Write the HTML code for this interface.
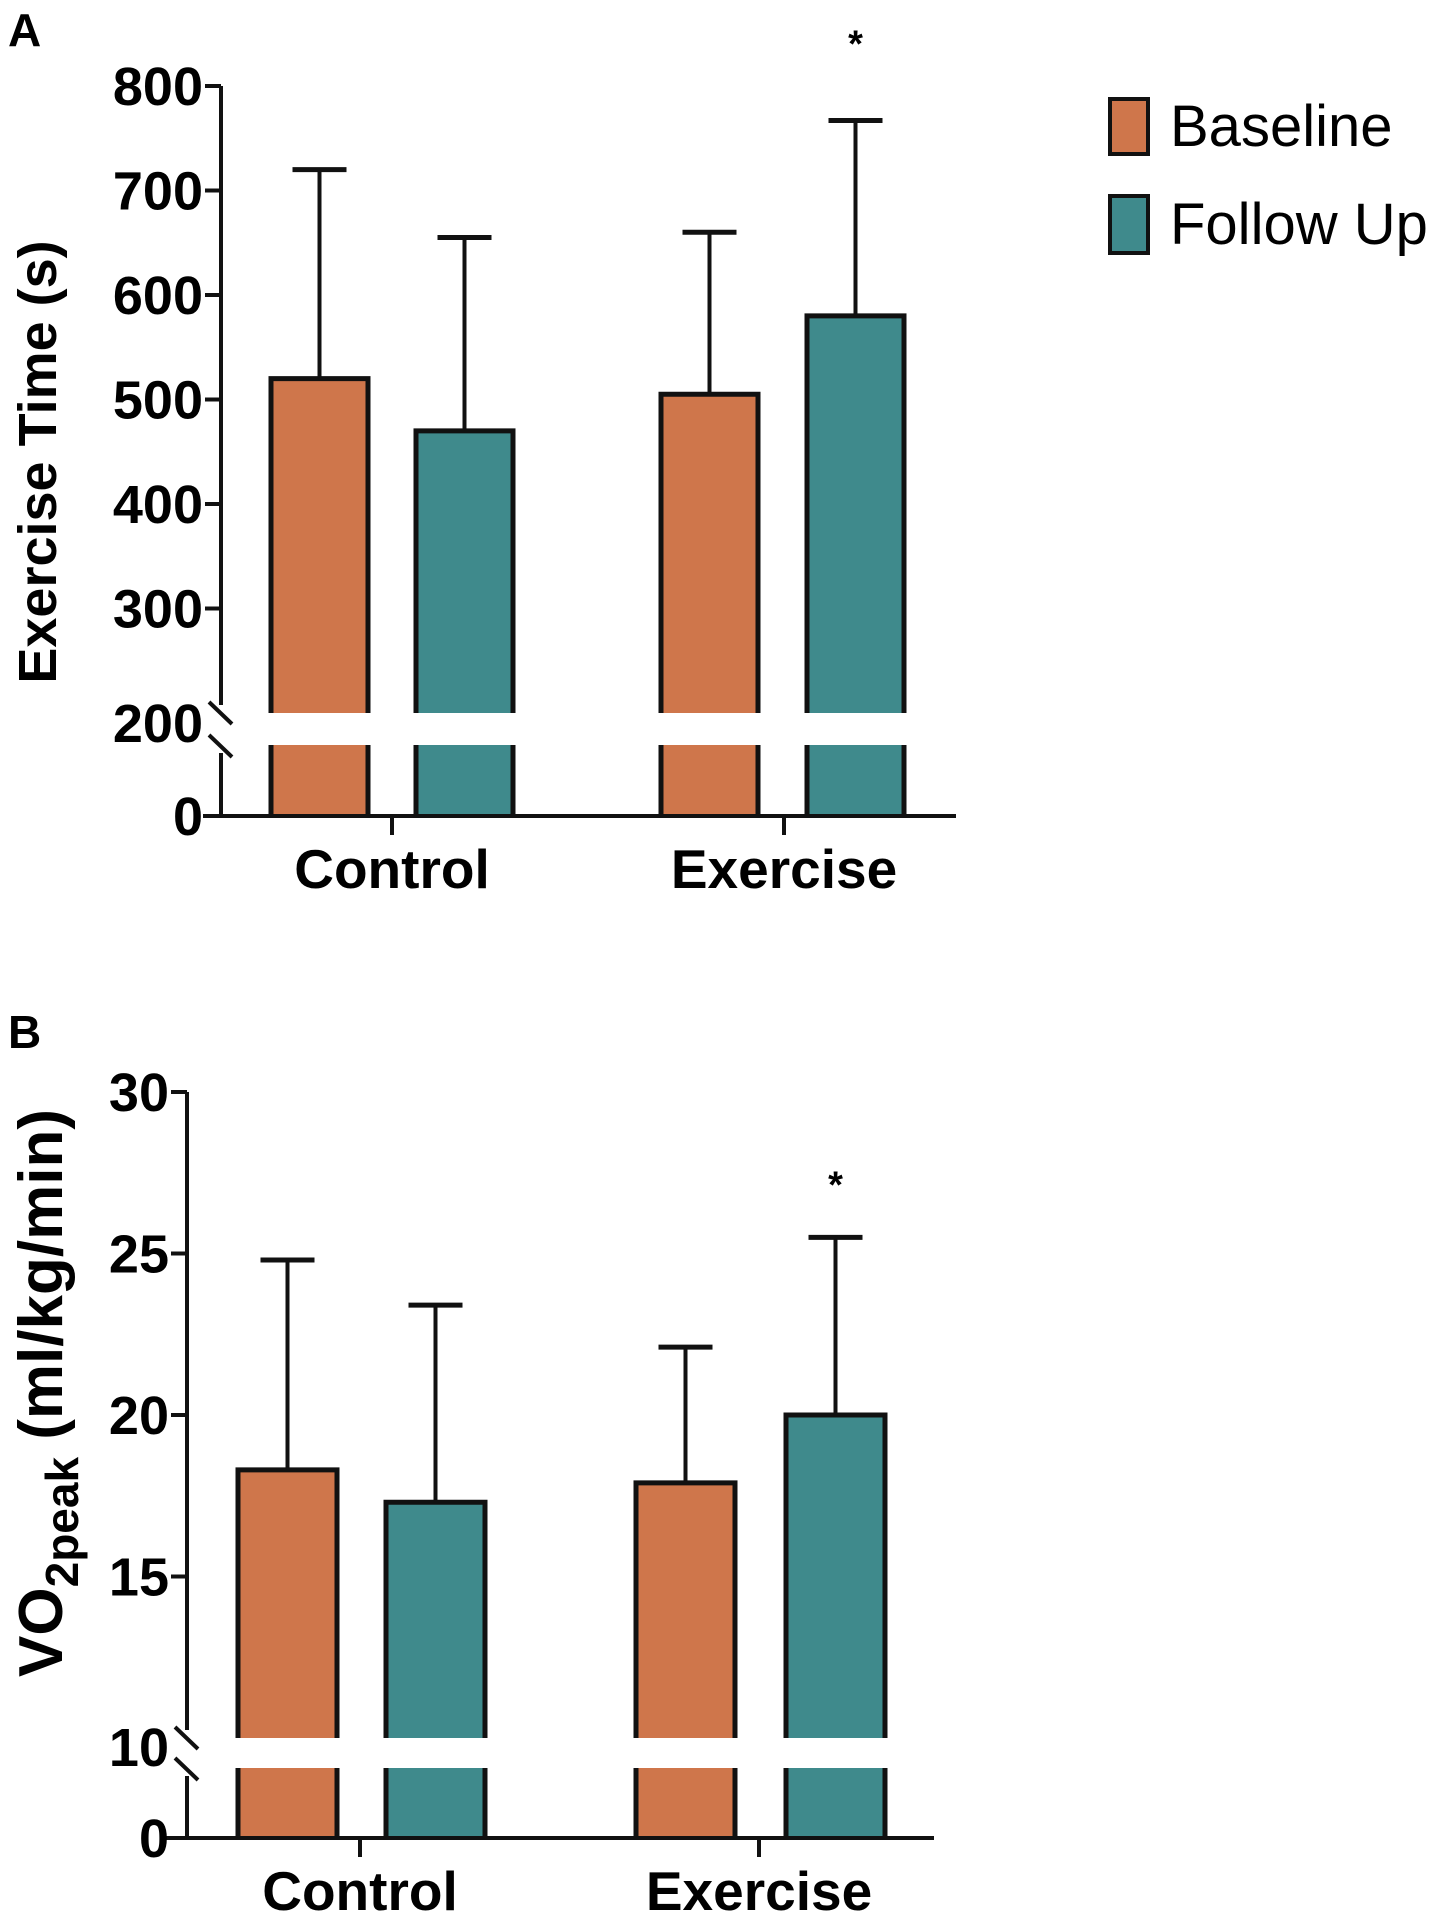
<!DOCTYPE html>
<html><head><meta charset="utf-8">
<style>
html,body{margin:0;padding:0;background:#fff;}
svg{display:block;font-family:"Liberation Sans",Arial,sans-serif;}
</style></head>
<body>
<svg id="chart" width="1440" height="1920" viewBox="0 0 1440 1920">
<text x="8" y="46" font-size="46" font-weight="bold">A</text>
<text x="8" y="1048" font-size="46" font-weight="bold">B</text>
<g id="pa"></g>
<g id="pb"></g>
<g>
  <rect x="1110" y="99" width="38" height="55" fill="#CF764B" stroke="#111" stroke-width="4"/>
  <text x="1170" y="146" font-size="58">Baseline</text>
  <rect x="1110" y="196" width="38" height="57" fill="#3F8A8C" stroke="#111" stroke-width="4"/>
  <text x="1170" y="244" font-size="58">Follow Up</text>
</g>
</svg>
<script>
const categories = ["Control", "Exercise"];
const seriesNames = ["Baseline", "Follow Up"];
const aBaseline = [520, 505];
const aFollowUp = [470, 580];
const aBaselineErr = [720, 660];
const aFollowUpErr = [655, 767];
const aTicks = [300, 400, 500, 600, 700, 800];
const aTickLabels = ["300", "400", "500", "600", "700", "800"];
const aSig = [false, true];
const bBaseline = [18.3, 17.9];
const bFollowUp = [17.3, 20.0];
const bBaselineErr = [24.8, 22.1];
const bFollowUpErr = [23.4, 25.5];
const bTicks = [15, 20, 25, 30];
const bTickLabels = ["15", "20", "25", "30"];
const bSig = [false, true];

const NS = "http://www.w3.org/2000/svg";
function mk(parent, tag, attrs){
  const e = document.createElementNS(NS, tag);
  for (const k in attrs) e.setAttribute(k, attrs[k]);
  parent.appendChild(e);
  return e;
}
const colors = ["#CF764B", "#3F8A8C"];

function drawPanel(g, cfg){
  const y = v => cfg.breakTop - (v - cfg.breakVal) * cfg.scale;
  const vals = [cfg.base, cfg.fu];
  const errs = [cfg.baseErr, cfg.fuErr];
  for (let c = 0; c < categories.length; c++){
    for (let s = 0; s < 2; s++){
      const x0 = cfg.barX[c][s], w = cfg.barW;
      const top = y(vals[s][c]);
      const cx = x0 + w/2;
      const eb = mk(g, "line", {x1:cx, x2:cx, y1:top, y2:y(errs[s][c]), stroke:"#111", "stroke-width":4});
      
      
      const cap = mk(g, "line", {x1:cx-27, x2:cx+27, y1:y(errs[s][c]), y2:y(errs[s][c]), stroke:"#111", "stroke-width":5});
      
      
      const up = mk(g, "path", {d:`M${x0},${cfg.breakTop} V${top} H${x0+w} V${cfg.breakTop}`, fill:colors[s], stroke:"#111", "stroke-width":5});
      
      
      const lof = mk(g, "rect", {x:x0, y:cfg.breakBot, width:w, height:cfg.zeroY-cfg.breakBot, fill:colors[s]});
      
      
      const lo = mk(g, "path", {d:`M${x0},${cfg.zeroY} V${cfg.breakBot} M${x0+w},${cfg.breakBot} V${cfg.zeroY}`, stroke:"#111", "stroke-width":5, fill:"none"});
      
      
    }
    if (cfg.sig[c]){
      const cx = cfg.barX[c][1] + cfg.barW/2;
      const st = mk(g, "text", {x:cx, y:y(cfg.fuErr[c]) - cfg.starOff, "font-size":38, "font-weight":"bold", "text-anchor":"middle"});
      st.textContent = "*";
      
      
    }
    const tx = cfg.catX[c];
    const tk = mk(g, "line", {x1:tx, x2:tx, y1:cfg.zeroY, y2:cfg.zeroY+19, stroke:"#111", "stroke-width":4});
    
    
    const cl = mk(g, "text", {x:tx, y:cfg.catY, "font-size":55, "font-weight":"bold", "text-anchor":"middle"});
    cl.textContent = categories[c];
    
    
  }
  const ax = cfg.axisX;
  const ya = mk(g, "path", {d:`M${ax},${y(cfg.ticks[cfg.ticks.length-1])} V${cfg.breakTop-8} M${ax},${cfg.breakBot+8} V${cfg.zeroY}`, stroke:"#111", "stroke-width":4, fill:"none"});
  
  
  const br = mk(g, "path", {d:`M${ax-12},${cfg.breakTop-11} L${ax+11},${cfg.breakTop+11} M${ax-12},${cfg.breakBot-10} L${ax+11},${cfg.breakBot+12}`, stroke:"#111", "stroke-width":4, fill:"none"});
  
  
  const xa = mk(g, "line", {x1:cfg.xStart, x2:cfg.xEnd, y1:cfg.zeroY, y2:cfg.zeroY, stroke:"#111", "stroke-width":4});
  
  
  const allT = [[0, "0", cfg.zeroY], [cfg.breakVal, String(cfg.breakVal), cfg.breakTop + (cfg.breakBot-cfg.breakTop)/2 - 6]];
  cfg.ticks.forEach((t,i) => allT.push([t, cfg.tickLabels[i], y(t)]));
  allT.forEach(([t, lab, py], i) => {
    if (i !== 1){
      const tl = mk(g, "line", {x1:ax-16, x2:ax, y1:py, y2:py, stroke:"#111", "stroke-width":4});
      
      
    }
    const lt = mk(g, "text", {x:ax-18, y:py+19, "font-size":54, "font-weight":"bold", "text-anchor":"end"});
    lt.textContent = lab;
    
    
  });
}

drawPanel(document.getElementById("pa"), {
  base:aBaseline, fu:aFollowUp, baseErr:aBaselineErr, fuErr:aFollowUpErr,
  ticks:aTicks, tickLabels:aTickLabels, sig:aSig,
  breakVal:200, breakTop:713, breakBot:745, zeroY:816, scale:1.045,
  axisX:221, xStart:203, xEnd:956,
  barX:[[271,416],[661,807]], barW:97, catX:[392,784], catY:888, starOff:64
});
drawPanel(document.getElementById("pb"), {
  base:bBaseline, fu:bFollowUp, baseErr:bBaselineErr, fuErr:bFollowUpErr,
  ticks:bTicks, tickLabels:bTickLabels, sig:bSig,
  breakVal:10, breakTop:1738, breakBot:1768, zeroY:1838, scale:32.3,
  axisX:187, xStart:165, xEnd:934,
  barX:[[238,386],[636,786]], barW:99, catX:[360,759], catY:1910, starOff:40
});

const svg = document.getElementById("chart");
const ta = mk(svg, "text", {x:0, y:0, "font-size":54, "font-weight":"bold", "text-anchor":"middle", transform:"translate(56,462) rotate(-90)"});
ta.textContent = "Exercise Time (s)";


const tb = mk(svg, "text", {x:0, y:0, "font-size":62, "font-weight":"bold", "text-anchor":"middle", transform:"translate(62,1393) rotate(-90)"});
tb.innerHTML = 'VO<tspan font-size="46" dy="16">2peak</tspan><tspan dy="-16">  (ml/kg/min)</tspan>';


</script>
</body></html>
